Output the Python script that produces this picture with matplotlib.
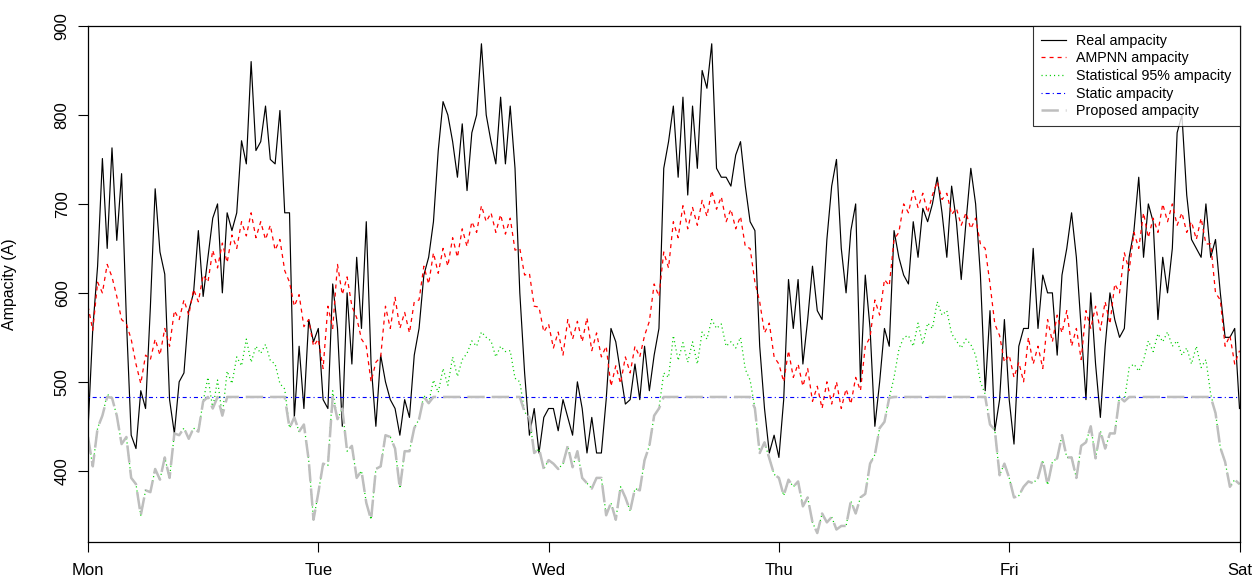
import numpy as np
import matplotlib
matplotlib.use("Agg")
import matplotlib.pyplot as plt

plt.rcParams['font.family'] = ['Liberation Sans', 'DejaVu Sans']
plt.rcParams['lines.scale_dashes'] = False

days = ["Mon", "Tue", "Wed", "Thu", "Fri", "Sat"]
steps_per_day = 48  # half-hour samples

real_amp = [
    # Mon
    446,560,630,751,650,763,659,734,570,440,425,490,470,584,717,646,621,480,442,500,510,580,600,670,
    596,640,684,700,600,690,670,690,771,745,860,760,770,810,750,745,805,690,690,460,540,470,570,545,
    # Tue
    560,480,470,610,560,450,600,520,640,560,680,520,450,530,500,480,470,440,480,460,530,560,620,640,
    680,760,815,800,770,730,790,715,780,800,880,800,770,745,820,745,810,740,600,510,440,470,420,460,
    # Wed
    470,470,445,480,460,440,500,470,420,460,420,420,480,560,545,510,475,480,520,480,540,490,530,560,
    740,770,810,730,820,710,810,740,850,830,880,740,730,730,720,755,770,720,680,670,540,470,420,440,
    # Thu
    415,480,615,560,615,520,570,630,580,570,660,720,750,650,600,670,700,500,620,560,450,500,560,540,
    670,640,620,610,680,640,695,680,700,730,690,640,720,680,615,680,740,700,620,490,580,445,480,570,
    # Fri
    480,430,540,560,560,650,560,620,600,600,530,620,650,690,640,560,480,600,520,460,540,600,570,550,
    560,640,670,730,640,700,680,570,640,600,650,780,800,710,660,650,640,700,640,660,600,550,550,560,
    470,
]

ampnn_amp = [
    # Mon
    585,558,612,600,632,618,596,570,565,548,520,498,530,525,548,530,560,540,580,570,592,575,604,590,
    620,612,648,628,656,634,665,650,680,664,690,662,680,660,676,648,660,625,612,585,598,562,570,540,
    # Tue
    548,515,585,560,632,598,618,585,572,548,540,500,522,528,585,560,595,560,578,555,590,592,630,610,
    645,622,650,630,662,640,672,652,680,668,698,680,690,668,688,666,684,648,650,620,622,585,584,556,
    # Wed
    565,538,556,530,570,548,568,545,572,535,555,528,540,495,518,498,528,510,540,528,552,568,610,596,
    646,628,680,662,698,672,696,676,704,686,715,694,708,680,694,672,686,652,650,612,590,555,566,528,
    # Thu
    520,500,535,505,520,495,515,478,495,470,500,475,500,470,492,475,505,490,540,550,592,575,615,608,
    660,668,700,690,715,696,712,690,710,725,705,712,688,695,676,690,672,684,655,650,610,565,552,522,
    # Fri
    530,505,522,500,550,520,540,515,570,545,575,555,580,540,560,525,580,560,585,558,590,565,610,600,
    645,625,668,650,690,662,684,668,700,680,700,676,690,668,680,660,684,655,655,600,592,540,552,520,
    535,
]

stat95_amp = [
    # Mon
    438,405,448,462,486,482,462,430,438,392,385,350,378,376,402,390,415,392,442,440,448,436,448,444,
    478,505,470,502,462,512,498,528,518,548,522,540,532,542,524,520,498,492,448,460,444,452,412,345,
    # Tue
    375,408,406,490,458,470,422,428,392,400,364,345,402,405,440,438,425,380,422,422,448,458,485,476,
    502,488,515,496,528,506,525,532,546,540,556,550,546,528,540,534,535,504,500,466,460,420,425,402,
    # Wed
    412,408,402,408,428,404,422,392,386,380,392,392,350,364,345,382,370,355,380,378,412,428,462,470,
    510,505,552,524,544,522,545,520,556,548,570,560,565,540,545,538,550,514,502,470,420,432,414,396,
    # Thu
    392,372,390,382,388,360,370,342,330,352,342,348,334,338,338,366,352,370,374,408,418,448,455,482,
    505,536,550,552,540,566,542,566,560,590,575,580,554,546,538,548,542,530,500,486,452,446,395,408,
    # Fri
    392,370,372,382,388,386,392,412,384,410,414,440,415,415,392,428,432,450,414,445,425,442,442,484,
    478,516,520,512,524,546,534,554,545,556,540,546,530,538,520,540,516,525,486,465,426,410,382,390,
    385,
]

static_amp = 483

legend_labels = ["Real ampacity", "AMPNN ampacity", "Statistical 95% ampacity",
                 "Static ampacity", "Proposed ampacity"]

real = np.array(real_amp, dtype=float)
ampnn = np.array(ampnn_amp, dtype=float)
stat = np.array(stat95_amp, dtype=float)
proposed = np.minimum(stat, static_amp)

t_real = np.arange(len(real)) / steps_per_day
t_ampnn = np.arange(len(ampnn)) / steps_per_day
t_stat = np.arange(len(stat)) / steps_per_day

fig = plt.figure(figsize=(12.59, 5.80), dpi=100)
ax = fig.add_axes([88/1259, 1 - 541.5/580, (1239.5-88)/1259, (541.5-26)/580])

ax.plot(t_real, real, color='black', lw=0.85, label=legend_labels[0])
ax.plot(t_ampnn, ampnn, color='#FF0000', lw=0.9, linestyle=(0, (2.9, 2.9)), label=legend_labels[1])
ax.plot(t_stat, stat, color='#00CD00', lw=0.9, linestyle=(0, (0.8, 2.2)), label=legend_labels[2])
ax.plot([0, len(days) - 1], [static_amp, static_amp], color='#0000FF', lw=0.8,
        linestyle=(0, (0.8, 2.2, 2.9, 2.2)), label=legend_labels[3])
ax.plot(t_stat, proposed, color='#BEBEBE', lw=1.8, linestyle=(0, (12.5, 5.0)), label=legend_labels[4])

ax.set_xlim(0, len(days) - 1)
ax.set_ylim(320.5, 900)
ax.set_xticks(range(len(days)))
ax.set_xticklabels(days)
ax.set_yticks([400, 500, 600, 700, 800, 900])
ax.tick_params(axis='both', direction='out', length=7.2, width=0.8, labelsize=12)
ax.tick_params(axis='x', pad=8)
ax.tick_params(axis='y', pad=6)
for lab in ax.get_yticklabels():
    lab.set_rotation(90)
    lab.set_va('center')
for sp in ax.spines.values():
    sp.set_linewidth(0.9)
    sp.set_color('black')

ax.set_ylabel("Ampacity (A)", fontsize=11.5)
ax.yaxis.set_label_coords(-0.062, 0.5)

leg = ax.legend(loc='upper right', fontsize=10.3, frameon=True, fancybox=False,
                edgecolor='black', borderaxespad=0, handlelength=1.8, handletextpad=0.7,
                labelspacing=0.25, borderpad=0.55)
leg.get_frame().set_linewidth(0.8)

fig.savefig("out.png", dpi=100)
